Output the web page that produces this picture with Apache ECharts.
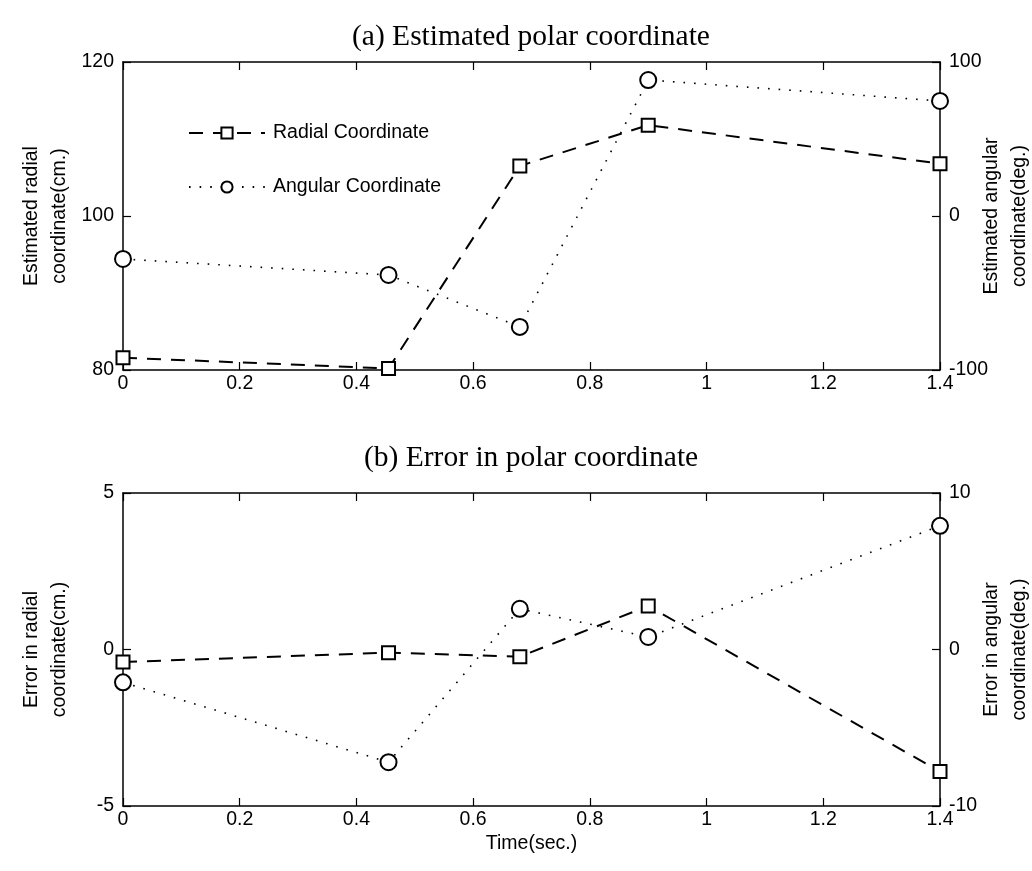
<!DOCTYPE html>
<html>
<head>
<meta charset="utf-8">
<script src="https://cdn.jsdelivr.net/npm/echarts@6/dist/echarts.min.js"></script>
<style>
html,body{margin:0;padding:0;background:#fff;}
#chart{width:1032px;height:871px;}
</style>
</head>
<body>
<div id="chart"></div>
<script>
// ---- data ----
const times = [0, 0.455, 0.68, 0.9, 1.4];
const radialEst = [81.6, 80.2, 106.5, 111.8, 106.8];
const angularEst = [-27.9, -38.3, -72, 88.3, 74.7];
const radialErr = [-0.4, -0.1, -0.23, 1.39, -3.9];
const angularErr = [-2.1, -7.2, 2.6, 0.8, 7.9];
const titles = ['(a) Estimated polar coordinate', '(b) Error in polar coordinate'];
const seriesNames = ['Radial Coordinate', 'Angular Coordinate'];

const pair = (xs, ys) => xs.map((x, i) => [x, ys[i]]);
const FONT = 'Liberation Sans, Arial, sans-serif';
const FS = 19.5;
const lineAx = {show: true, onZero: false, lineStyle: {color: '#000', width: 1.5}};
const tickIn = {show: true, inside: true, length: 8, lineStyle: {color: '#000', width: 1.2}};
const lbl = {color: '#000', fontFamily: FONT, fontSize: FS};

function xAx(grid, pos, showLabel, name) {
  return {
    type: 'value', gridIndex: grid, position: pos, min: 0, max: 1.4, interval: 0.2,
    axisLine: lineAx, axisTick: tickIn, splitLine: {show: false},
    axisLabel: Object.assign({show: showLabel, margin: 4}, lbl),
    name: name || '', nameLocation: 'middle', nameGap: 28, nameMoveOverlap: false,
    nameTextStyle: {color: '#000', fontFamily: FONT, fontSize: FS}
  };
}
function yAx(grid, pos, min, max, interval, name, gap) {
  return {
    type: 'value', gridIndex: grid, position: pos, min: min, max: max, interval: interval,
    axisLine: lineAx, axisTick: tickIn, splitLine: {show: false},
    axisLabel: Object.assign({margin: 9}, lbl),
    name: name, nameLocation: 'middle', nameRotate: 90, nameGap: gap, nameMoveOverlap: false,
    nameTextStyle: {color: '#000', fontFamily: FONT, fontSize: FS, lineHeight: 28}
  };
}
const dashStyle = {color: '#000', width: 2, type: [14, 10]};
const dotStyle = {color: '#000', width: 1.6, type: [1.6, 9]};
function radialSeries(xi, yi, data) {
  return {name: seriesNames[0], type: 'line', xAxisIndex: xi, yAxisIndex: yi, data: data,
    symbol: 'emptyRect', symbolSize: 13, lineStyle: dashStyle,
    itemStyle: {color: '#000', borderWidth: 1.6}, animation: false};
}
function angularSeries(xi, yi, data) {
  return {name: seriesNames[1], type: 'line', xAxisIndex: xi, yAxisIndex: yi, data: data,
    symbol: 'emptyCircle', symbolSize: 16, lineStyle: dotStyle,
    itemStyle: {color: '#000', borderWidth: 1.6}, animation: false};
}

const chart = echarts.init(document.getElementById('chart'), null, {renderer: 'canvas'});
chart.setOption({
  backgroundColor: '#fff',
  animation: false,
  title: [
    {text: titles[0], left: 352, top: 22, padding: 0, textStyle: {fontFamily: 'Liberation Serif, Times New Roman, serif', fontWeight: 'normal', fontSize: 29.5, color: '#000'}},
    {text: titles[1], left: 364, top: 443, padding: 0, textStyle: {fontFamily: 'Liberation Serif, Times New Roman, serif', fontWeight: 'normal', fontSize: 29.5, color: '#000'}}
  ],
  legend: {
    data: seriesNames, orient: 'vertical', left: 183, top: 118,
    itemWidth: 76, itemHeight: 14, itemGap: 34,
    textStyle: {color: '#000', fontFamily: FONT, fontSize: FS, padding: [0, 0, 0, 3]},
    backgroundColor: '#fff'
  },
  grid: [
    {left: 123, right: 92, top: 62, height: 308, outerBoundsMode: 'none', containLabel: false},
    {left: 123, right: 92, top: 493, height: 313, outerBoundsMode: 'none', containLabel: false}
  ],
  xAxis: [
    xAx(0, 'bottom', true), xAx(0, 'top', false),
    xAx(1, 'bottom', true, 'Time(sec.)'), xAx(1, 'top', false)
  ],
  yAxis: [
    yAx(0, 'left', 80, 120, 20, 'Estimated radial\ncoordinate(cm.)', 49),
    yAx(0, 'right', -100, 100, 100, 'Estimated angular\ncoordinate(deg.)', 38),
    yAx(1, 'left', -5, 5, 5, 'Error in radial\ncoordinate(cm.)', 49),
    yAx(1, 'right', -10, 10, 10, 'Error in angular\ncoordinate(deg.)', 38)
  ],
  series: [
    radialSeries(0, 0, pair(times, radialEst)),
    angularSeries(0, 1, pair(times, angularEst)),
    radialSeries(2, 2, pair(times, radialErr)),
    angularSeries(2, 3, pair(times, angularErr))
  ]
});
</script>
</body>
</html>
